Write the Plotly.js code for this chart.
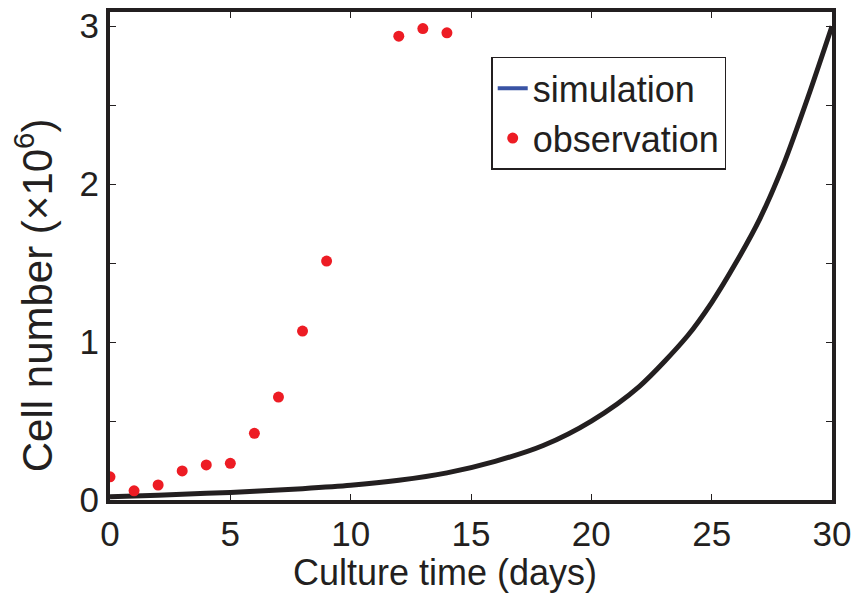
<!DOCTYPE html>
<html>
<head>
<meta charset="utf-8">
<script src="https://cdn.plot.ly/plotly-3.0.1.min.js"></script>
<style>
  html, body { margin: 0; padding: 0; background: #ffffff; }
  #chart { width: 861px; height: 599px; }
</style>
</head>
<body>
<div id="chart"></div>
<script>
// Simulated growth curve (cells, x10^6) over culture days
const simDays  = [0, 2, 4, 6, 8, 10, 12, 14, 16, 18, 20, 22, 24, 25, 26, 27, 28, 29, 30];
const simCells = [0.02, 0.03, 0.042, 0.055, 0.072, 0.093, 0.125, 0.172, 0.245, 0.345, 0.50, 0.72, 1.04, 1.25, 1.50, 1.78, 2.13, 2.55, 3.00];

// Measured cell counts (x10^6)
const obsDays  = [0, 1, 2, 3, 4, 5, 6, 7, 8, 9, 12, 13, 14];
const obsCells = [0.147, 0.058, 0.095, 0.184, 0.222, 0.232, 0.422, 0.652, 1.07, 1.513, 2.937, 2.985, 2.958];

// Axis ticks
const xTicks = [0, 5, 10, 15, 20, 25, 30];
const yTicks = [0, 0.5, 1, 1.5, 2, 2.5, 3];
const yTickText = ['0', '', '1', '', '2', '', '3'];

const ink = '#231f20';
const font = 'Liberation Sans, Arial, Helvetica, sans-serif';

const traces = [
  {
    x: simDays, y: simCells, type: 'scatter', mode: 'lines',
    line: { color: ink, width: 5, shape: 'spline', smoothing: 0.8 },
    showlegend: false, hoverinfo: 'skip'
  },
  {
    // legend entry for the simulation curve
    x: [null], y: [null], type: 'scatter', mode: 'lines',
    name: 'simulation',
    line: { color: '#3953a4', width: 4 }
  },
  {
    x: obsDays, y: obsCells, type: 'scatter', mode: 'markers',
    name: 'observation',
    marker: { color: '#ed1c24', size: 11, line: { width: 0 } }
  }
];

const layout = {
  width: 861, height: 599,
  margin: { l: 110, r: 29, t: 12, b: 99, pad: 0 },
  paper_bgcolor: '#ffffff', plot_bgcolor: '#ffffff',
  showlegend: true,
  legend: {
    x: 0.528, y: 0.908, xanchor: 'left', yanchor: 'top',
    bordercolor: ink, borderwidth: 1.5, bgcolor: '#ffffff',
    font: { family: font, size: 36, color: ink },
    tracegroupgap: 0, itemwidth: 30
  },
  xaxis: {
    range: [0, 30], tickmode: 'array', tickvals: xTicks,
    ticks: 'inside', ticklen: 6, tickwidth: 1, tickcolor: ink,
    showline: true, linewidth: 4, linecolor: ink, mirror: 'allticks',
    showgrid: false, zeroline: false,
    tickfont: { family: font, size: 35, color: ink }
  },
  yaxis: {
    range: [0, 3.09], tickmode: 'array', tickvals: yTicks, ticktext: yTickText,
    ticks: 'inside', ticklen: 6, tickwidth: 1, tickcolor: ink,
    showline: true, linewidth: 4, linecolor: ink, mirror: 'allticks',
    showgrid: false, zeroline: false,
    tickfont: { family: font, size: 35, color: ink }
  },
  annotations: [
    {
      // x-axis title
      text: 'Culture time (days)', showarrow: false,
      xref: 'paper', yref: 'paper', x: 0.464, y: -0.148,
      xanchor: 'center', yanchor: 'middle',
      font: { family: font, size: 36, color: ink }
    },
    {
      // y-axis title
      text: 'Cell number (\u00d710<sup>6</sup>)', showarrow: false, textangle: -90,
      xref: 'paper', yref: 'paper', x: -0.105, y: 0.42,
      xanchor: 'center', yanchor: 'middle',
      font: { family: font, size: 42, color: ink }
    }
  ]
};

Plotly.newPlot('chart', traces, layout, { staticPlot: true, displayModeBar: false });
</script>
</body>
</html>
